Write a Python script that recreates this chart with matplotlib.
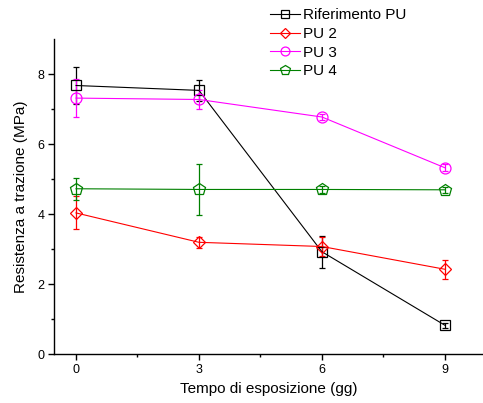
import matplotlib
matplotlib.use("Agg")
import matplotlib.pyplot as plt
from matplotlib.lines import Line2D

plt.rcParams['font.family'] = ['Liberation Sans', 'DejaVu Sans']

days = [0, 3, 6, 9]
series_names = ["Riferimento PU", "PU 2", "PU 3", "PU 4"]
rif_pu = [7.68, 7.54, 2.93, 0.83]
rif_pu_err = [0.52, 0.31, 0.45, 0.07]
pu2 = [4.04, 3.20, 3.08, 2.43]
pu2_err = [0.47, 0.16, 0.27, 0.27]
pu3 = [7.32, 7.28, 6.78, 5.33]
pu3_err = [0.54, 0.28, 0.08, 0.10]
pu4 = [4.73, 4.71, 4.71, 4.70]
pu4_err = [0.32, 0.72, 0.10, 0.08]

x_ticks = [0, 3, 6, 9]
y_ticks = [0, 2, 4, 6, 8]

fig = plt.figure(figsize=(4.83, 4.03), dpi=100)
ax = fig.add_axes([0.1124, 0.1208, 0.8876, 0.7817])

styles = [
    (rif_pu, rif_pu_err, "black", "s", 6.8, 5.2),
    (pu2, pu2_err, "#FF0000", "D", 6.6, 5.6),
    (pu3, pu3_err, "#FF00FF", "o", 7.9, 6.4),
    (pu4, pu4_err, "#008000", "p", 9.0, 7.4),
]
handles = []
for (vals, errs, col, mk, ms, lms), name in zip(styles, series_names):
    ax.errorbar(days, vals, yerr=errs, color=col, marker=mk, ms=ms,
                mfc="none", mec=col, mew=0.9, lw=0.8, elinewidth=0.9,
                capsize=2.5, capthick=0.9, label=name)
    handles.append(Line2D([], [], color=col, marker=mk, ms=lms, mfc="none",
                          mec=col, mew=0.9, lw=0.8))

ax.set_xlim(-0.53, 9.93)
ax.set_ylim(0, 9)
ax.set_xticks(x_ticks)
ax.set_yticks(y_ticks)
ax.set_xticks([1.5, 4.5, 7.5], minor=True)
ax.set_yticks([1, 3, 5, 7], minor=True)
ax.spines['top'].set_visible(False)
ax.spines['right'].set_visible(False)
for s in ['left', 'bottom']:
    ax.spines[s].set_linewidth(1.0)
ax.tick_params(which='major', direction='out', length=4, width=1.0, labelsize=9, pad=3)
ax.tick_params(which='minor', direction='out', length=2.5, width=1.0)
ax.set_xlabel("Tempo di esposizione (gg)", fontsize=11, labelpad=4)
ax.set_ylabel("Resistenza a trazione (MPa)", fontsize=11, labelpad=7)

leg = fig.legend(handles=handles, labels=series_names, loc='upper left',
                 bbox_to_anchor=(0.541, 1.0), frameon=False, fontsize=11,
                 handlelength=2.0, handletextpad=0.2, labelspacing=0.3,
                 borderaxespad=0.15)

fig.savefig("out.png", dpi=100)
